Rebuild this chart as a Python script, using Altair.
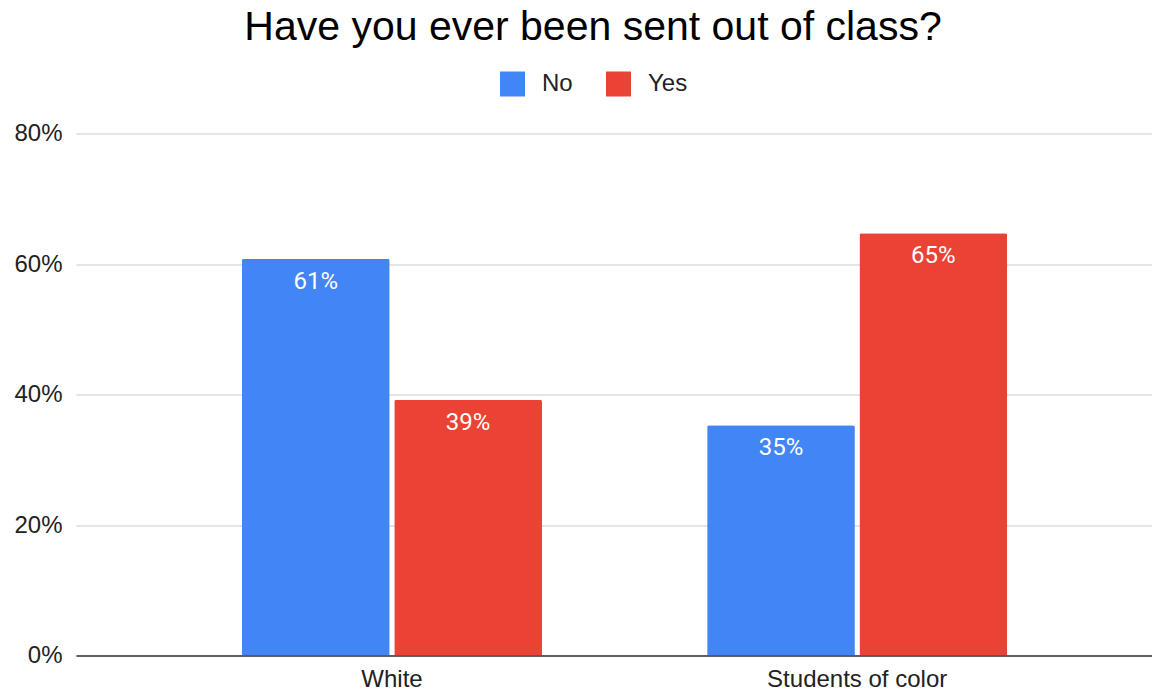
import altair as alt
import pandas as pd

# ---- data ----
groups = ["White", "Students of color"]
answers = ["No", "Yes"]
no_values = [0.608, 0.353]
yes_values = [0.392, 0.647]
y_ticks = [0, 0.2, 0.4, 0.6, 0.8]
colors = ["#4285F4", "#EA4335"]

rows = []
for g, n, y in zip(groups, no_values, yes_values):
    rows.append({"group": g, "answer": "No", "value": n})
    rows.append({"group": g, "answer": "Yes", "value": y})
df = pd.DataFrame(rows)

FONT = "Liberation Sans"

base = alt.Chart(df).encode(
    x=alt.X(
        "group:N",
        sort=groups,
        scale=alt.Scale(paddingInner=0.355, paddingOuter=0.334, align=0.534),
        axis=alt.Axis(
            title=None,
            labelAngle=0,
            labelFont=FONT,
            labelFontSize=24,
            labelColor="#222222",
            labelLimit=400,
            ticks=False,
            tickSize=0,
            labelPadding=12,
            domainColor="#333333",
            domainWidth=1.5,
            grid=False,
            zindex=1,
        ),
    ),
    xOffset=alt.XOffset(
        "answer:N", sort=answers, scale=alt.Scale(paddingInner=0.03, paddingOuter=0)
    ),
    y=alt.Y(
        "value:Q",
        scale=alt.Scale(domain=[0, 0.8], nice=False, zero=True),
        axis=alt.Axis(
            title=None,
            values=y_ticks,
            format=".0%",
            labelFont=FONT,
            labelFontSize=24,
            labelColor="#222222",
            ticks=False,
            tickSize=0,
            labelPadding=14,
            domain=False,
            gridColor="#cccccc",
            gridWidth=1.2,
        ),
    ),
)

bars = base.mark_bar(cornerRadiusTopLeft=2, cornerRadiusTopRight=2).encode(
    color=alt.Color(
        "answer:N",
        scale=alt.Scale(domain=answers, range=colors),
        legend=alt.Legend(
            title=None,
            orient="none",
            legendX=424,
            legendY=-62,
            direction="horizontal",
            symbolType="square",
            symbolSize=625,
            symbolStrokeWidth=0,
            symbolOpacity=1,
            labelFont=FONT,
            labelFontSize=24,
            labelColor="#222222",
            labelOffset=17,
            columnPadding=33,
            padding=0,
        ),
    )
)

labels = base.mark_text(
    baseline="alphabetic",
    dy=30,
    color="white",
    font="Roboto",
    fontSize=24,
    fontWeight="normal",
).encode(text=alt.Text("value:Q", format=".0%"))

chart = (
    alt.layer(bars, labels)
    .properties(
        width=1076,
        height=522,
        autosize=alt.AutoSizeParams(type="none"),
        padding={"left": 68, "top": 125.5, "right": 0, "bottom": 36},
        title=alt.TitleParams(
            text="Have you ever been sent out of class?",
            font=FONT,
            fontSize=41,
            fontWeight="normal",
            color="#000000",
            anchor="middle",
            dx=-21,
            offset=23,
        ),
    )
    .configure_view(stroke=None)
)

chart.save("out.html", embed_options={"renderer": "svg", "actions": False})
